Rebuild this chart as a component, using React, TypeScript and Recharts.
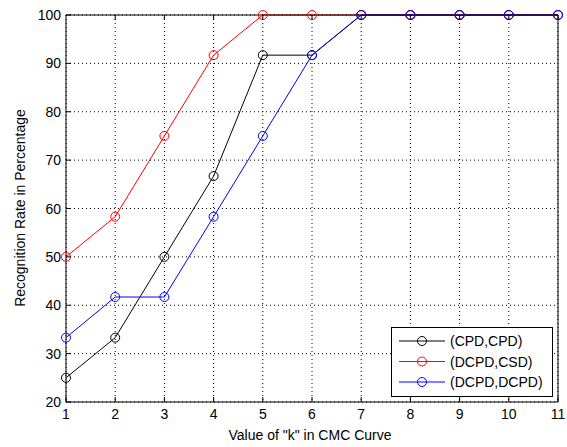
import { LineChart, Line, XAxis, YAxis, CartesianGrid } from "recharts"

const kValues = [1, 2, 3, 4, 5, 6, 7, 8, 9, 10, 11]
const cpdCpd = [25, 33.3, 50, 66.7, 91.7, 91.7, 100, 100, 100, 100, 100]
const dcpdCsd = [50, 58.3, 75, 91.7, 100, 100, 100, 100, 100, 100, 100]
const dcpdDcpd = [33.3, 41.7, 41.7, 58.3, 75, 91.7, 100, 100, 100, 100, 100]
const yTicks = [20, 30, 40, 50, 60, 70, 80, 90, 100]

const seriesNames = ["(CPD,CPD)", "(DCPD,CSD)", "(DCPD,DCPD)"]
const seriesColors = ["#000000", "#ff0000", "#0000ff"]

const data = kValues.map((k, i) => ({
  k,
  cpdCpd: cpdCpd[i],
  dcpdCsd: dcpdCsd[i],
  dcpdDcpd: dcpdDcpd[i],
}))

const FONT = "'Liberation Sans', Arial, sans-serif"
const TOP = 15
const BOTTOM = 402
const LEFT = 66
const RIGHT = 558
const TICK = 5

const BottomTick = (props: any) => {
  const { x, payload } = props
  return (
    <g>
      <line x1={x} x2={x} y1={BOTTOM} y2={BOTTOM - TICK} stroke="#000" />
      <text x={x} y={419} textAnchor="middle" fontSize={14} fontFamily={FONT} fill="#000">
        {payload.value}
      </text>
    </g>
  )
}

const TopTick = (props: any) => {
  const { x } = props
  return <line x1={x} x2={x} y1={TOP} y2={TOP + TICK} stroke="#000" />
}

const LeftTick = (props: any) => {
  const { y, payload } = props
  return (
    <g>
      <line x1={LEFT} x2={LEFT + TICK} y1={y} y2={y} stroke="#000" />
      <text x={61} y={y + 5} textAnchor="end" fontSize={14} fontFamily={FONT} fill="#000">
        {payload.value}
      </text>
    </g>
  )
}

const RightTick = (props: any) => {
  const { y } = props
  return <line x1={RIGHT} x2={RIGHT - TICK} y1={y} y2={y} stroke="#000" />
}

const dotFor = (color: string) => ({ r: 4.5, fill: "none", stroke: color, strokeWidth: 1 })

export default function App() {
  return (
    <div style={{ position: "absolute", left: 0, top: 0, width: 567, height: 447, background: "#fff" }}>
      <LineChart width={567} height={447} data={data} margin={{ top: 14, right: 8, left: 0, bottom: 0 }}>
        <CartesianGrid stroke="#000" strokeDasharray="1 3" />
        <XAxis
          dataKey="k"
          type="number"
          domain={[1, 11]}
          ticks={kValues}
          height={45}
          tickSize={0}
          tickLine={false}
          axisLine={{ stroke: "#000" }}
          tick={<BottomTick />}
          interval={0}
        />
        <XAxis
          xAxisId="top"
          orientation="top"
          type="number"
          domain={[1, 11]}
          ticks={kValues}
          height={1}
          tickSize={0}
          tickLine={false}
          axisLine={{ stroke: "#000" }}
          tick={<TopTick />}
          interval={0}
        />
        <YAxis
          type="number"
          domain={[20, 100]}
          ticks={yTicks}
          width={66}
          tickSize={0}
          tickLine={false}
          axisLine={{ stroke: "#000" }}
          tick={<LeftTick />}
          interval={0}
        />
        <YAxis
          yAxisId="right"
          orientation="right"
          type="number"
          domain={[20, 100]}
          ticks={yTicks}
          width={1}
          tickSize={0}
          tickLine={false}
          axisLine={{ stroke: "#000" }}
          tick={<RightTick />}
          interval={0}
        />
        <Line type="linear" dataKey="cpdCpd" stroke={seriesColors[0]} strokeWidth={1} dot={dotFor(seriesColors[0])} activeDot={false} isAnimationActive={false} />
        <Line type="linear" dataKey="dcpdCsd" stroke={seriesColors[1]} strokeWidth={1} dot={dotFor(seriesColors[1])} activeDot={false} isAnimationActive={false} />
        <Line type="linear" dataKey="dcpdDcpd" stroke={seriesColors[2]} strokeWidth={1} dot={dotFor(seriesColors[2])} activeDot={false} isAnimationActive={false} />
      </LineChart>

      <div
        style={{
          position: "absolute",
          left: 20,
          top: 208,
          transform: "translate(-50%, -50%) rotate(-90deg)",
          whiteSpace: "nowrap",
          fontFamily: FONT,
          fontSize: 14,
        }}
      >
        Recognition Rate in Percentage
      </div>
      <div
        style={{
          position: "absolute",
          left: 310,
          top: 435,
          transform: "translate(-50%, -50%)",
          whiteSpace: "nowrap",
          fontFamily: FONT,
          fontSize: 14,
        }}
      >
        Value of "k" in CMC Curve
      </div>

      <svg style={{ position: "absolute", left: 391, top: 327 }} width={162} height={70}>
        <rect x={0.5} y={0.5} width={161} height={69} fill="#fff" stroke="#000" />
        {seriesNames.map((name, i) => {
          const cy = 14 + i * 20.5
          return (
            <g key={name}>
              <line x1={8} x2={54} y1={cy} y2={cy} stroke={seriesColors[i]} />
              <circle cx={31} cy={cy} r={4.5} fill="none" stroke={seriesColors[i]} />
              <text x={59} y={cy + 5} fontSize={14} fontFamily={FONT} fill="#000">
                {name}
              </text>
            </g>
          )
        })}
      </svg>
    </div>
  )
}
